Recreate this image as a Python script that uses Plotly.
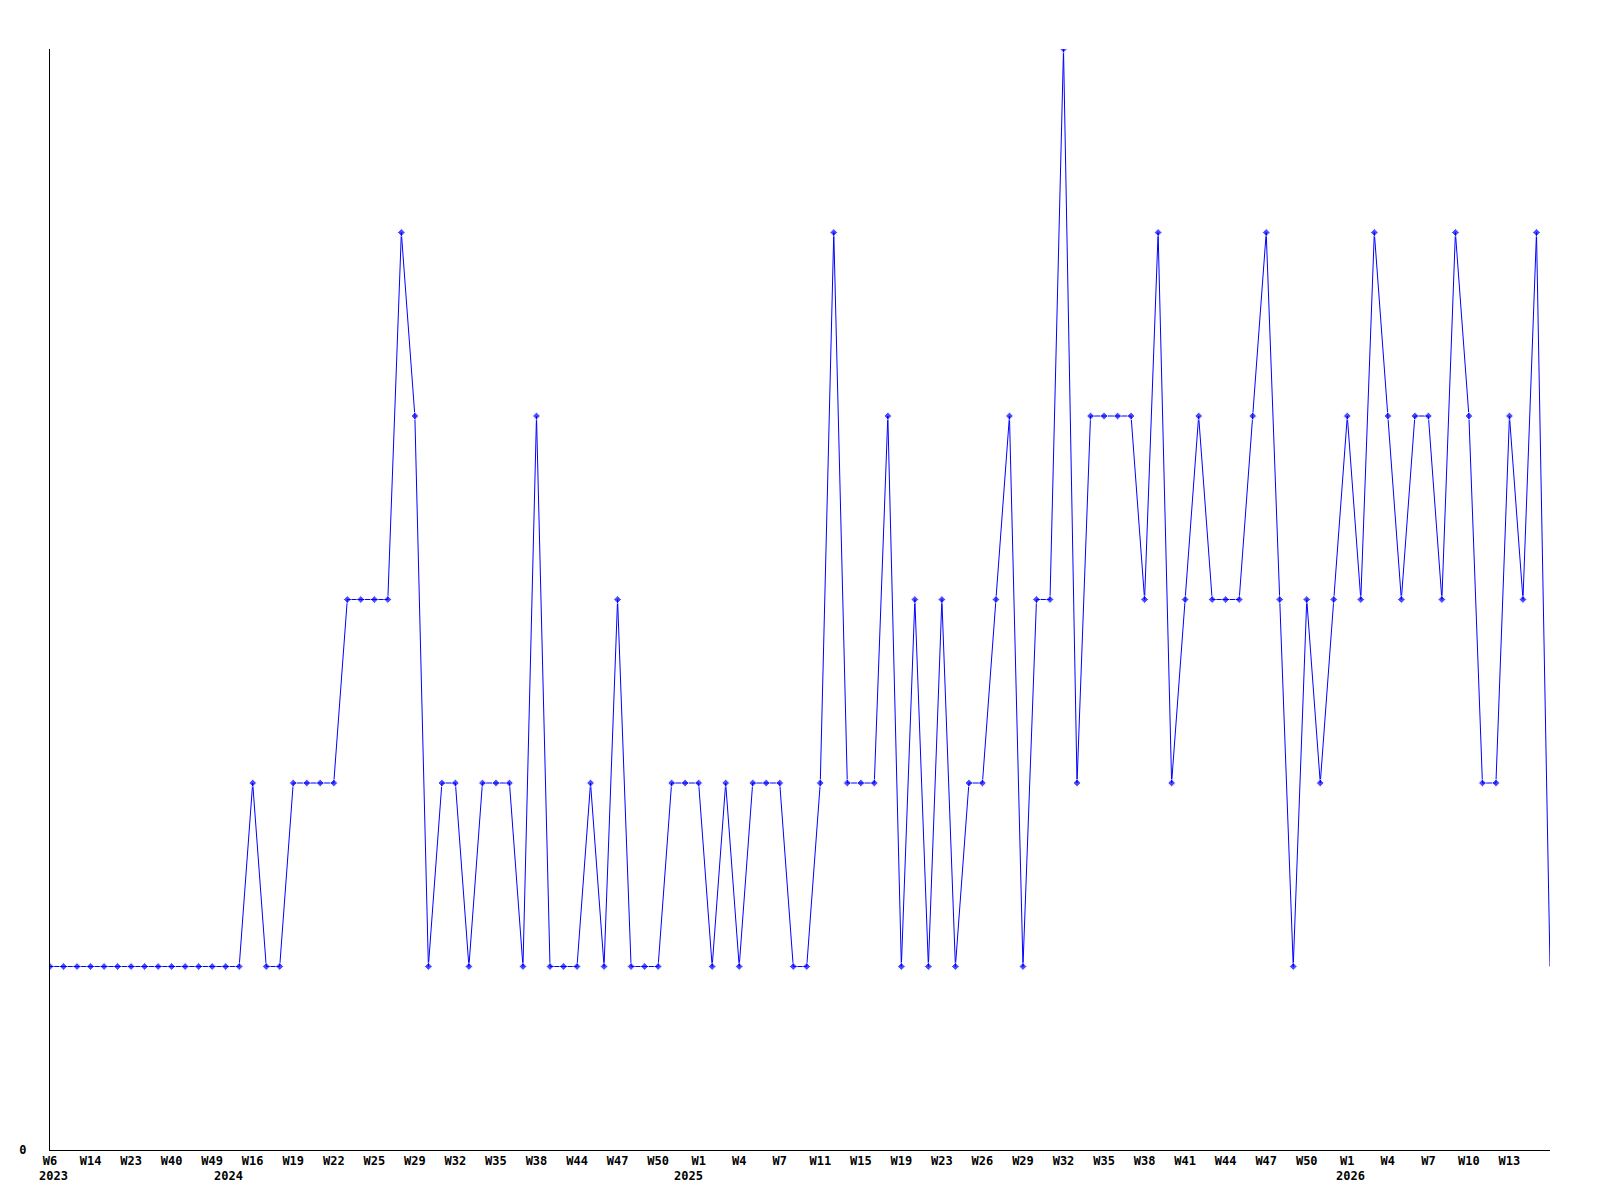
import plotly.graph_objects as go

# Weekly counts (categorical index order)
values = [
    1, 1, 1, 1, 1, 1, 1, 1, 1, 1, 1, 1, 1, 1, 1,
    2, 1, 1, 2, 2, 2, 2, 3, 3, 3, 3, 5, 4, 1, 2,
    2, 1, 2, 2, 2, 1, 4, 1, 1, 1, 2, 1, 3, 1, 1,
    1, 2, 2, 2, 1, 2, 1, 2, 2, 2, 1, 1, 2, 5, 2,
    2, 2, 4, 1, 3, 1, 3, 1, 2, 2, 3, 4, 1, 3, 3,
    6, 2, 4, 4, 4, 4, 3, 5, 2, 3, 4, 3, 3, 3, 4,
    5, 3, 1, 3, 2, 3, 4, 3, 5, 4, 3, 4, 4, 3, 5,
    4, 2, 2, 4, 3, 5, 1,
]

# Tick labels, one every third point
tick_labels = [
    "W6", "W14", "W23", "W40", "W49", "W16", "W19", "W22", "W25", "W29",
    "W32", "W35", "W38", "W44", "W47", "W50", "W1", "W4", "W7", "W11",
    "W15", "W19", "W23", "W26", "W29", "W32", "W35", "W38", "W41", "W44",
    "W47", "W50", "W1", "W4", "W7", "W10", "W13",
]
tick_step = 3

# Year labels and the index where each year label sits
years = ["2023", "2024", "2025", "2026"]
year_start = [0, 13, 47, 96]

x = list(range(len(values)))
tickvals = [i * tick_step for i in range(len(tick_labels))]
marker_sizes = [6] * (len(values) - 1) + [0]

FONT = dict(family="DejaVu Sans Mono", size=12, color="black", weight="bold")

fig = go.Figure()
fig.add_trace(go.Scatter(
    x=x, y=values, mode="lines+markers",
    line=dict(color="#0000ff", width=1),
    marker=dict(symbol="diamond", size=marker_sizes, color="#0000ff"),
    hoverinfo="x+y", showlegend=False,
))

for yr, idx in zip(years, year_start):
    fig.add_annotation(
        x=idx, y=0, xref="x", yref="y", text=yr, showarrow=False,
        xanchor="center", yanchor="middle", yshift=-26, xshift=3, font=FONT,
    )

fig.update_layout(
    width=1584, height=1184,
    margin=dict(l=42, r=42, t=41, b=42, autoexpand=False),
    paper_bgcolor="white", plot_bgcolor="white",
    font=FONT,
)
fig.update_xaxes(
    range=[0, len(values) - 1], tickmode="array", tickvals=tickvals,
    ticktext=tick_labels, showgrid=False, zeroline=False,
    showline=True, linecolor="black", linewidth=1, ticks="",
    tickfont=FONT,
)
fig.update_yaxes(
    range=[0, 6], tickmode="array", tickvals=[0], ticktext=["0"],
    showgrid=False, zeroline=False, showline=True, linecolor="black",
    linewidth=1, ticks="", ticklabelstandoff=20, tickfont=FONT,
)

fig.write_html("out.html")
